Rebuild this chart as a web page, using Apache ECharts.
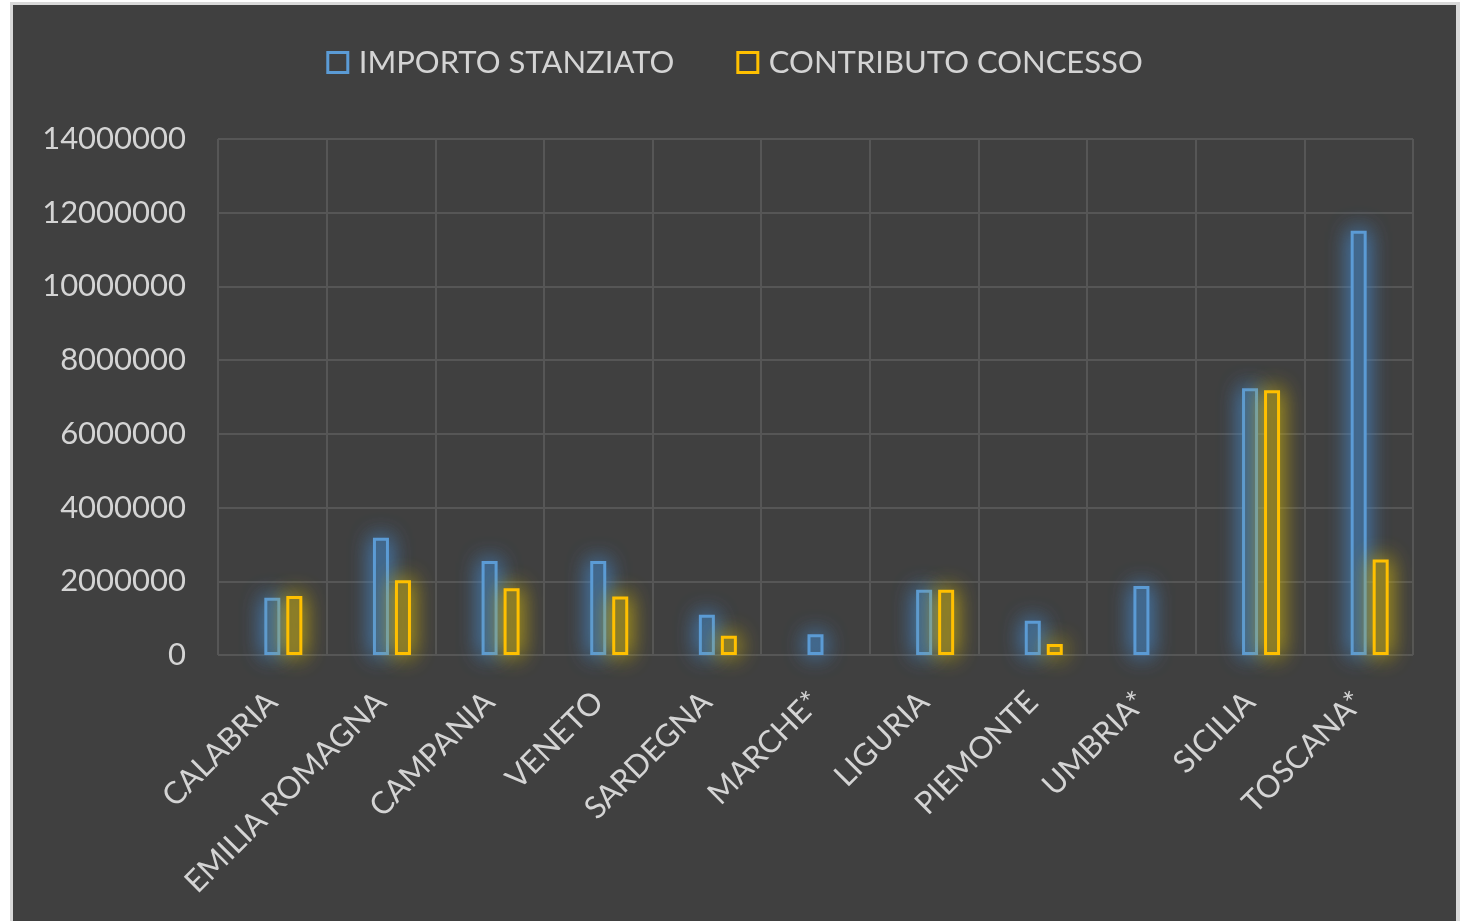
<!DOCTYPE html>
<html>
<head>
<meta charset="utf-8">
<script src="https://cdn.jsdelivr.net/npm/echarts@6/dist/echarts.min.js"></script>
<style>
html,body{margin:0;padding:0;background:#ffffff;width:1465px;height:921px;overflow:hidden;}
#frame{position:absolute;left:10px;top:2px;width:1450px;height:930px;background:#d9d9d9;}
#chart{position:absolute;left:13px;top:5px;width:1443px;height:916px;background:#404040;}
</style>
</head>
<body>
<div id="frame"></div>
<div id="chart"></div>
<script>
const categories = ['CALABRIA','EMILIA ROMAGNA','CAMPANIA','VENETO','SARDEGNA','MARCHE*','LIGURIA','PIEMONTE','UMBRIA*','SICILIA','TOSCANA*'];
const importoStanziato = [1550000, 3180000, 2550000, 2550000, 1090000, 560000, 1770000, 930000, 1870000, 7240000, 11510000];
const contributoConcesso = [1600000, 2030000, 1810000, 1590000, 520000, null, 1770000, 300000, null, 7180000, 2590000];
const placeholder = categories.map(() => null);
const yTicks = {min: 0, max: 14000000, interval: 2000000};

const chart = echarts.init(document.getElementById('chart'), null, {renderer: 'canvas'});
const labelColor = '#d4d4d4';
const fontFamily = 'Lato, "Open Sans", sans-serif';
function barSeries(name, data, color, fill, glow) {
  return {
    name: name,
    type: 'bar',
    data: data,
    barWidth: 16,
    barGap: '37.5%',
    itemStyle: {
      color: fill,
      borderColor: color,
      borderWidth: 3,
      shadowBlur: 22,
      shadowOffsetX: 0,
      shadowOffsetY: 0,
      shadowColor: glow
    },
    emphasis: {disabled: true}
  };
}
chart.setOption({
  animation: false,
  backgroundColor: '#404040',
  textStyle: {fontFamily: fontFamily},
  legend: {
    data: ['IMPORTO STANZIATO', 'CONTRIBUTO CONCESSO'],
    top: 37,
    left: 'center',
    itemWidth: 20,
    itemHeight: 20,
    itemGap: 62,
    icon: 'rect',
    itemStyle: {borderWidth: 3, shadowBlur: 0, color: '#404040'},
    textStyle: {color: labelColor, fontSize: 31, fontFamily: fontFamily, padding: [0, 0, 0, 6]}
  },
  grid: {left: 205, top: 134, right: 43, bottom: 266, containLabel: false},
  xAxis: {
    type: 'category',
    data: categories,
    axisLine: {show: false},
    axisTick: {show: false},
    splitLine: {show: true, interval: 0, lineStyle: {color: '#565656', width: 2}},
    axisLabel: {
      interval: 0,
      rotate: 45,
      margin: 42,
      color: labelColor,
      fontSize: 31,
      fontFamily: fontFamily
    }
  },
  yAxis: {
    type: 'value',
    min: yTicks.min,
    max: yTicks.max,
    interval: yTicks.interval,
    axisLine: {show: false},
    axisTick: {show: false},
    splitLine: {show: true, lineStyle: {color: '#565656', width: 2}},
    axisLabel: {color: labelColor, fontSize: 31, margin: 32, fontFamily: fontFamily, formatter: v => String(v)}
  },
  series: [
    barSeries('', placeholder, 'transparent', 'transparent', 'transparent'),
    barSeries('IMPORTO STANZIATO', importoStanziato, '#5b9bd5', '#41607d', 'rgba(70,140,210,1)'),
    barSeries('CONTRIBUTO CONCESSO', contributoConcesso, '#ffc000', '#7a7030', 'rgba(210,180,10,1)')
  ]
});
</script>
</body>
</html>
